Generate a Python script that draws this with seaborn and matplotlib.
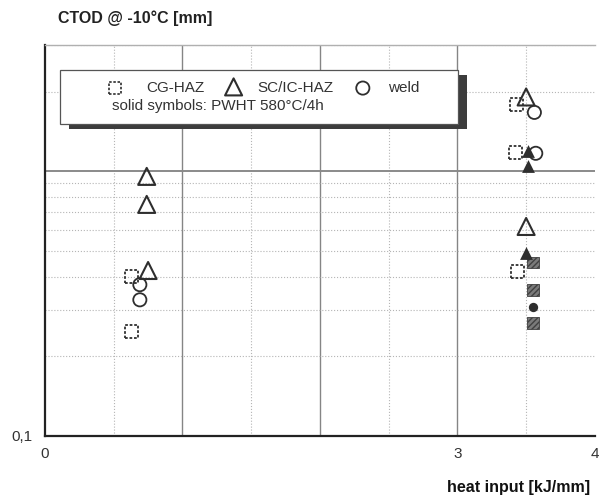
import matplotlib
matplotlib.use('Agg')
import matplotlib.pyplot as plt
import seaborn as sns
from matplotlib.patches import Rectangle
from matplotlib.ticker import FixedLocator, NullFormatter

# CTOD values (heat input in kJ/mm, CTOD in mm)
cg_x = [0.63, 0.63, 3.43, 3.42, 3.44]
cg_y = [0.40, 0.248, 1.79, 1.18, 0.418]
cg_pwht_x = [3.55, 3.55, 3.55]
cg_pwht_y = [0.452, 0.357, 0.268]

sc_x = [0.74, 0.74, 0.75, 3.50, 3.50]
sc_y = [0.957, 0.75, 0.422, 1.91, 0.619]
sc_pwht_x = [3.51, 3.51, 3.50]
sc_pwht_y = [1.19, 1.05, 0.493]

weld_x = [0.69, 0.69, 3.56, 3.57]
weld_y = [0.373, 0.327, 1.67, 1.17]
weld_pwht_x = [3.55]
weld_pwht_y = [0.308]

x_ticks = [0, 0.5, 1, 1.5, 2, 2.5, 3, 3.5, 4]
x_labels = ['0', '', '', '', '', '', '3', '', '4']
y_minor = [0.2, 0.3, 0.4, 0.5, 0.6, 0.7, 0.8, 0.9, 2, 3]

sns.set_style('white')
plt.rcParams['font.family'] = ['Liberation Sans', 'DejaVu Sans']

fig = plt.figure(figsize=(5.99, 4.98), dpi=100)
ax = fig.add_axes([0.0751, 0.1245, 0.918, 0.785])
ax.set_yscale('log')
ax.set_xlim(0, 4)
ax.set_ylim(0.1, 3)

# grid
for v in [1, 2, 3]:
    ax.axvline(v, color='#858585', lw=1.0, zorder=0)
for v in [0.5, 1.5, 2.5, 3.5]:
    ax.axvline(v, color='#b5b5b5', lw=0.8, ls=':', zorder=0)
ax.axhline(1, color='#8a8a8a', lw=1.4, zorder=0)
for v in y_minor:
    ax.axhline(v, color='#b5b5b5', lw=0.8, ls=':', zorder=0)

ink = '#2e2e2e'
dotted = (0, (1.5, 1))
# open symbols (as welded)
sns.scatterplot(x=cg_x, y=cg_y, ax=ax, marker='s', s=85, facecolor='none',
                edgecolor=ink, linewidth=1.3, linestyle=dotted, zorder=3)
sns.scatterplot(x=sc_x, y=sc_y, ax=ax, marker='^', s=150, facecolor='none',
                edgecolor=ink, linewidth=1.5, zorder=3)
sns.scatterplot(x=weld_x, y=weld_y, ax=ax, marker='o', s=90, facecolor='none',
                edgecolor=ink, linewidth=1.3, zorder=3)
# solid symbols (PWHT)
sns.scatterplot(x=cg_pwht_x, y=cg_pwht_y, ax=ax, marker='s', s=70, facecolor='#7a7a7a',
                edgecolor='#404040', linewidth=0.6, hatch='//////', zorder=4)
sns.scatterplot(x=sc_pwht_x, y=sc_pwht_y, ax=ax, marker='^', s=85, color=ink,
                linewidth=0, zorder=4)
sns.scatterplot(x=weld_pwht_x, y=weld_pwht_y, ax=ax, marker='o', s=45, color=ink,
                linewidth=0, zorder=4)

# axes styling
ax.spines['right'].set_visible(False)
ax.spines['top'].set_color('#b0b0b0')
ax.spines['top'].set_linewidth(1.0)
for side in ['left', 'bottom']:
    ax.spines[side].set_color('#222222')
    ax.spines[side].set_linewidth(1.6)

ax.set_xticks(x_ticks)
ax.set_xticklabels(x_labels)
ax.yaxis.set_major_locator(FixedLocator([0.1, 1]))
ax.set_yticklabels(['0,1', ''])
ax.yaxis.set_minor_locator(FixedLocator(y_minor))
ax.yaxis.set_minor_formatter(NullFormatter())
ax.tick_params(axis='x', direction='out', length=5, width=1.3, color='#333333',
               labelsize=11, labelcolor='#333333', pad=3)
ax.tick_params(axis='y', which='major', direction='out', length=7, width=1.3,
               color='#333333', labelsize=11, labelcolor='#333333', pad=2)
ax.tick_params(axis='y', which='minor', direction='out', length=5, width=1.3,
               color='#333333')
ax.set_xlabel('')
ax.set_ylabel('')

# legend box with drop shadow
ax.add_patch(Rectangle((0.043, 0.785), 0.724, 0.138, transform=ax.transAxes,
                       facecolor='#3c3c3c', edgecolor='none', zorder=5, clip_on=False))
ax.add_patch(Rectangle((0.027, 0.798), 0.724, 0.138, transform=ax.transAxes,
                       facecolor='white', edgecolor='#555555', lw=0.9, zorder=6, clip_on=False))
ax.scatter([0.127], [0.890], transform=ax.transAxes, marker='s', s=75, facecolor='none',
           edgecolor=ink, linewidth=1.2, linestyle=dotted, zorder=7)
ax.scatter([0.343], [0.893], transform=ax.transAxes, marker='^', s=150, facecolor='none',
           edgecolor=ink, linewidth=1.5, zorder=7)
ax.scatter([0.578], [0.890], transform=ax.transAxes, marker='o', s=90, facecolor='none',
           edgecolor=ink, linewidth=1.3, zorder=7)
txt = dict(transform=ax.transAxes, fontsize=11, color='#333333', va='center', zorder=7)
ax.text(0.185, 0.890, 'CG-HAZ', **txt)
ax.text(0.387, 0.890, 'SC/IC-HAZ', **txt)
ax.text(0.624, 0.890, 'weld', **txt)
ax.text(0.122, 0.843, 'solid symbols: PWHT 580°C/4h', **txt)

fig.text(58 / 599, 1 - 18 / 498, 'CTOD @ -10°C [mm]', fontsize=11.5, fontweight='bold',
         color='#222222', va='center', ha='left')
fig.text(590 / 599, 1 - 487 / 498, 'heat input [kJ/mm]', fontsize=11.5, fontweight='bold',
         color='#111111', va='center', ha='right')

fig.savefig('out.png', dpi=100)
